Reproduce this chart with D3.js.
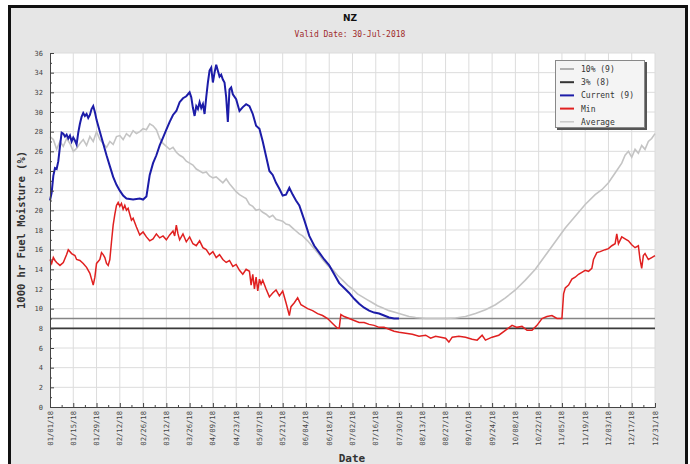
<!DOCTYPE html>
<html>
<head>
<meta charset="utf-8">
<script src="https://cdn.jsdelivr.net/npm/d3@7"></script>
<style>
  body { margin: 0; background: #fff; }
  svg { display: block; }
</style>
</head>
<body>
<svg id="chart" width="690" height="464"></svg>
<script>
// ---- data (day of year 2018, value %) ----
const curDays = [0,1,2,3,4,5,6,7,8,9,10,11,12,13,14,15,16,17,18,19,20,21,22,23,24,25,26,27,28,30,32,34,36,38,40,42,44,46,50,54,56,58,59,60,62,64,66,68,70,72,74,76,78,80,82,84,85,86,87,88,89,90,91,92,93,94,95,96,97,98,99,100,101,102,103,104,105,106,107,108,109,110,112,114,116,118,120,122,124,126,128,130,132,134,136,138,140,142,144,146,148,150,153,156,159,162,165,168,171,174,177,180,183,186,189,192,195,198,201,204,207,210];
const curVals = [21.0,21.8,23.5,24.3,24.2,25.0,26.5,27.9,27.8,27.5,27.7,27.3,27.6,27.0,27.4,27.1,26.7,27.9,28.8,29.5,29.9,29.6,29.8,29.4,29.7,30.3,30.6,30.0,29.2,28.0,26.8,25.6,24.5,23.4,22.6,22.0,21.5,21.2,21.1,21.2,21.1,21.4,22.5,23.6,24.8,25.6,26.6,27.4,28.2,29.0,29.7,30.1,31.0,31.4,31.6,32.0,31.5,30.4,29.6,30.6,30.3,31.0,30.4,30.8,29.8,31.5,33.0,34.2,34.5,33.0,34.0,34.8,34.2,33.6,33.8,33.3,33.0,31.5,29.0,32.3,32.5,31.8,31.3,30.1,30.5,30.8,30.6,29.8,28.6,28.3,27.0,25.5,24.0,23.6,22.8,22.2,21.5,21.6,22.3,21.6,21.0,20.5,19.0,17.4,16.4,15.7,15.0,14.4,13.5,12.6,12.1,11.6,11.0,10.5,10.1,9.8,9.6,9.5,9.3,9.1,9.0,9.0];

const minDays = [0,1,2,3,4,6,8,10,11,13,15,16,18,20,22,24,25,26,27,28,30,31,32,33,34,35,36,37,38,39,40,41,42,43,44,45,46,47,48,49,50,52,54,56,58,60,62,64,66,68,70,72,74,75,76,77,78,80,82,84,86,88,90,92,94,96,98,100,102,104,106,108,110,112,114,116,118,120,121,122,123,124,125,126,127,128,130,132,134,136,138,140,142,144,145,147,149,151,153,155,158,161,164,167,170,173,174,175,177,180,183,186,189,192,195,198,201,204,207,210,214,218,222,226,229,232,235,238,240,242,246,250,254,257,260,262,266,270,274,278,281,284,287,290,293,296,299,302,305,308,309,310,312,314,316,318,320,322,324,326,327,329,331,334,336,338,340,341,342,344,346,348,350,352,354,355,356,357,358,360,362,364];
const minVals = [15.0,14.6,15.2,14.9,14.7,14.4,14.7,15.5,16.0,15.6,15.4,15.0,14.9,14.6,14.2,13.6,13.0,12.4,13.2,14.6,15.0,15.7,15.5,15.2,14.6,14.4,15.0,16.8,18.5,19.6,20.5,20.8,20.4,20.7,20.1,20.5,20.0,20.2,19.6,19.0,19.2,18.3,17.5,17.8,17.3,16.9,17.1,17.6,17.2,17.4,17.0,17.5,17.9,17.4,18.5,17.6,17.0,17.6,16.8,17.3,16.6,16.4,16.9,16.2,16.0,15.5,15.8,15.2,15.5,15.0,14.7,14.9,14.3,14.5,13.9,13.5,14.0,13.8,12.4,13.5,12.0,13.2,11.8,13.0,12.5,12.9,12.0,11.2,11.6,11.9,11.3,11.8,10.6,9.3,10.2,10.6,11.1,10.4,10.2,10.0,9.8,9.5,9.3,9.0,8.5,8.0,8.0,9.4,9.2,9.0,8.8,8.6,8.6,8.4,8.3,8.1,8.1,7.9,7.7,7.6,7.5,7.4,7.2,7.3,7.0,7.2,7.1,7.0,6.6,7.1,7.2,7.1,6.9,6.8,7.3,6.8,7.1,7.3,7.8,8.3,8.1,8.2,7.8,7.8,8.3,9.0,9.2,9.3,9.0,9.0,11.5,12.1,12.4,13.0,13.2,13.5,13.7,13.9,13.8,14.1,15.0,15.7,15.8,16.0,16.1,16.4,16.6,17.6,16.6,17.3,17.1,16.9,16.5,16.2,16.4,15.0,14.1,15.4,15.6,15.0,15.2,15.4];

const avgDays = [0,2,4,6,8,10,12,14,16,18,20,22,24,26,28,30,32,34,36,38,40,42,44,46,48,50,52,54,56,58,60,62,64,66,68,70,72,74,76,78,80,82,84,86,88,90,92,94,96,98,100,102,104,106,108,110,112,114,116,118,120,122,124,126,128,130,132,134,136,138,140,142,144,146,148,150,152,155,158,161,164,167,170,173,176,179,182,185,188,191,194,197,200,204,208,212,216,220,226,232,238,244,250,256,262,268,274,280,286,292,298,304,310,316,322,328,332,336,340,344,346,348,350,352,354,356,358,360,362,364];
const avgVals = [27.5,27.2,26.2,27.0,26.5,27.3,26.8,26.0,26.3,26.8,27.2,26.6,27.5,27.0,28.0,27.2,26.8,26.4,27.0,26.7,27.5,27.6,27.2,27.8,27.5,28.1,27.8,28.0,28.3,28.2,28.8,28.6,28.2,27.3,26.8,26.5,26.2,26.4,25.9,25.6,25.4,25.0,24.8,24.6,24.2,24.0,23.8,23.9,23.5,23.3,23.4,23.1,22.8,23.2,22.7,22.3,21.9,21.6,21.4,21.2,20.6,20.4,20.0,20.1,19.8,19.6,19.3,19.5,19.1,19.0,18.9,18.6,18.5,18.2,17.9,17.6,17.4,16.9,16.3,15.7,15.0,14.4,14.0,13.4,12.9,12.4,12.0,11.5,11.2,10.9,10.6,10.3,10.1,9.8,9.6,9.4,9.2,9.1,9.0,9.0,9.0,9.05,9.2,9.5,9.9,10.4,11.1,11.9,12.9,14.0,15.4,16.8,18.2,19.4,20.6,21.6,22.1,22.8,23.8,24.8,25.6,26.0,25.4,26.2,25.8,26.6,26.2,27.0,27.3,27.8];

const thresholds = [
  {name: "10% (9)", value: 9, color: "#858585"},
  {name: "3% (8)", value: 8, color: "#3a3a3a"}
];
const legendItems = [
  {name: "10% (9)", color: "#9a9a9a", w: 1.5},
  {name: "3% (8)", color: "#333", w: 2},
  {name: "Current (9)", color: "#1c1ca8", w: 2},
  {name: "Min", color: "#e02020", w: 2},
  {name: "Average", color: "#c8c8c8", w: 1.5}
];
const yTicks = d3.range(0, 37, 2);

const start = new Date(2018, 0, 1);
const toSeries = (days, vals) => days.map((d, i) => ({date: d3.timeDay.offset(start, d), v: vals[i]}));
const current = toSeries(curDays, curVals);
const minS = toSeries(minDays, minVals);
const avgS = toSeries(avgDays, avgVals);

const svg = d3.select("#chart");

// outer frame
svg.append("rect").attr("x", 9.5).attr("y", 6.5).attr("width", 677).attr("height", 470)
  .attr("fill", "#e6e6e6").attr("stroke", "#111").attr("stroke-width", 3);

const pLeft = 50, pRight = 655, pTop = 53, pBottom = 407;
const x = d3.scaleTime().domain([start, new Date(2018, 11, 31)]).range([pLeft, pRight]);
const y = d3.scaleLinear().domain([0, 36]).range([pBottom, pTop]);

svg.append("rect").attr("x", pLeft).attr("y", pTop).attr("width", pRight - pLeft).attr("height", pBottom - pTop)
  .attr("fill", "#fff");

const allDays = d3.timeDay.range(start, new Date(2019, 0, 1));
const xMajor = allDays.filter((d, i) => i % 14 === 0);
const xMinor = allDays.filter((d, i) => i % 7 === 0);

// grid
svg.append("g").selectAll("line").data(xMajor.slice(1)).join("line")
  .attr("x1", d => x(d)).attr("x2", d => x(d)).attr("y1", pTop).attr("y2", pBottom)
  .attr("stroke", "#dcdcdc").attr("stroke-width", 1);
svg.append("g").selectAll("line").data(yTicks.slice(1)).join("line")
  .attr("x1", pLeft).attr("x2", pRight).attr("y1", d => y(d)).attr("y2", d => y(d))
  .attr("stroke", "#dcdcdc").attr("stroke-width", 1);

// thresholds
svg.append("g").selectAll("line").data(thresholds).join("line")
  .attr("x1", pLeft).attr("x2", pRight).attr("y1", d => y(d.value)).attr("y2", d => y(d.value))
  .attr("stroke", d => d.color).attr("stroke-width", 1.6);

const line = d3.line().x(d => x(d.date)).y(d => y(d.v));
svg.append("path").datum(avgS).attr("d", line).attr("fill", "none")
  .attr("stroke", "#c4c4c4").attr("stroke-width", 1.6);
svg.append("path").datum(minS).attr("d", line).attr("fill", "none")
  .attr("stroke", "#e02020").attr("stroke-width", 1.5);
svg.append("path").datum(current).attr("d", line).attr("fill", "none")
  .attr("stroke", "#1c1ca8").attr("stroke-width", 2);

// axes
const yAxis = svg.append("g").attr("transform", `translate(${pLeft},0)`)
  .call(d3.axisRight(y).tickValues(d3.range(0, 37, 1)).tickSize(4).tickFormat(""));
yAxis.selectAll(".tick line").attr("x2", d => d % 2 === 0 ? 4 : 2).attr("stroke", "#444");
yAxis.select(".domain").attr("stroke", "#444");

svg.append("g").selectAll("text").data(yTicks).join("text")
  .attr("x", 43).attr("y", d => y(d) + 2.5).attr("text-anchor", "end")
  .attr("font-family", "DejaVu Sans Mono, monospace").attr("font-size", 7).attr("fill", "#444")
  .text(d => d);

const xAxis = svg.append("g").attr("transform", `translate(0,${pBottom})`)
  .call(d3.axisTop(x).tickValues(xMinor).tickSize(3).tickFormat(""));
xAxis.selectAll(".tick line").attr("y2", (d, i) => i % 2 === 0 ? -4 : -2).attr("stroke", "#444");
xAxis.select(".domain").attr("stroke", "#444");

const fmt = d3.timeFormat("%m/%d/%y");
svg.append("g").selectAll("text").data(xMajor).join("text")
  .attr("transform", d => `translate(${x(d) + 2.5},${pBottom + 4}) rotate(-90)`)
  .attr("text-anchor", "end")
  .attr("font-family", "DejaVu Sans Mono, monospace").attr("font-size", 7.2).attr("fill", "#444")
  .text(fmt);

// titles
svg.append("text").attr("x", 350).attr("y", 21).attr("text-anchor", "middle")
  .attr("font-family", "DejaVu Sans, sans-serif").attr("font-weight", "bold").attr("font-size", 9)
  .attr("fill", "#111").text("NZ");
svg.append("text").attr("x", 350).attr("y", 37).attr("text-anchor", "middle")
  .attr("font-family", "DejaVu Sans Mono, monospace").attr("font-size", 8)
  .attr("fill", "#a02a2a").text("Valid Date: 30-Jul-2018");
svg.append("text").attr("transform", `translate(25,${(pTop + pBottom) / 2}) rotate(-90)`)
  .attr("text-anchor", "middle")
  .attr("font-family", "DejaVu Sans Mono, monospace").attr("font-weight", "bold").attr("font-size", 10.5)
  .attr("fill", "#333").text("1000 hr Fuel Moisture (%)");
svg.append("text").attr("x", 352).attr("y", 462).attr("text-anchor", "middle")
  .attr("font-family", "DejaVu Sans Mono, monospace").attr("font-weight", "bold").attr("font-size", 11)
  .attr("fill", "#333").text("Date");

// legend
const lg = svg.append("g").attr("transform", "translate(555,60)");
lg.append("rect").attr("x", 2).attr("y", 2).attr("width", 90).attr("height", 68).attr("fill", "#555");
lg.append("rect").attr("x", 0.5).attr("y", 0.5).attr("width", 89).attr("height", 67)
  .attr("fill", "#f4f4f4").attr("stroke", "#888");
const li = lg.selectAll("g.item").data(legendItems).join("g").attr("class", "item")
  .attr("transform", (d, i) => `translate(0,${9 + i * 13.2})`);
li.append("line").attr("x1", 5).attr("x2", 19).attr("stroke", d => d.color).attr("stroke-width", d => d.w);
li.append("text").attr("x", 26).attr("y", 3).attr("font-family", "DejaVu Sans Mono, monospace")
  .attr("font-size", 8).attr("fill", "#333").text(d => d.name);
</script>
</body>
</html>
